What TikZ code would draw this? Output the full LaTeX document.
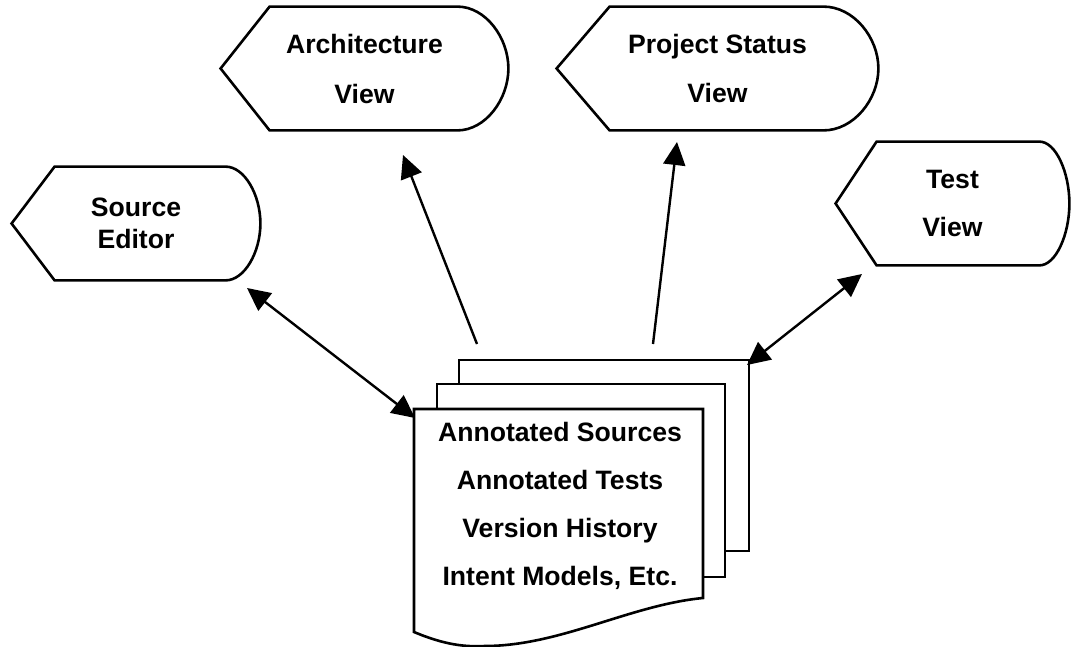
\documentclass[tikz,border=0pt]{standalone}
\usepackage{fontspec}
\setmainfont{Liberation Sans}
\usetikzlibrary{arrows.meta,calc}

\tikzset{
  outline/.style={line width=1.3pt, line join=miter},
  viewtext/.style={align=center, inner sep=0pt, draw=none},
  link/.style={line width=1.2pt, -{Triangle[length=11.5pt,width=11pt]}},
  duplex/.style={line width=1.2pt, {Triangle[length=11.5pt,width=11pt]}-{Triangle[length=11.5pt,width=11pt]}},
}

% Outline of a "display" shape around a node:
% #1 node name, #2 inset of the pointed left side, #3 width of the rounded right side
\newcommand\displayoutline[3]{%
  \draw[outline] (#1.west)
    -- ($(#1.north west)+(#2,0)$)
    -- ($(#1.north east)+(-#3,0)$)
    .. controls ($(#1.north east)+(-0.45*#3,0)$) and ($(#1.east)!0.5!(#1.north east)$) .. (#1.east)
    .. controls ($(#1.east)!0.5!(#1.south east)$) and ($(#1.south east)+(-0.45*#3,0)$) .. ($(#1.south east)+(-#3,0)$)
    -- ($(#1.south west)+(#2,0)$)
    -- cycle;}

\begin{document}
\begin{tikzpicture}[x=0.5pt, y=-0.5pt]
  \useasboundingbox (0,0) rectangle (1072,647);

  % the four views
  \node[viewtext, minimum width=124pt, minimum height=56.5pt,
        font=\bfseries\fontsize{13.3}{16}\selectfont] (editor) at (136,223.5) {Source\\Editor};
  \displayoutline{editor}{43}{35}

  \node[viewtext, minimum width=143.5pt, minimum height=61.5pt,
        font=\bfseries\fontsize{13.3}{25}\selectfont] (arch) at (364.5,68.5) {Architecture\\View};
  \displayoutline{arch}{49}{51}

  \node[viewtext, minimum width=160.5pt, minimum height=61.5pt,
        font=\bfseries\fontsize{13.3}{24.5}\selectfont] (status) at (717.5,68.5) {Project Status\\View};
  \displayoutline{status}{53}{55}

  \node[viewtext, minimum width=116.5pt, minimum height=61.5pt,
        font=\bfseries\fontsize{13.3}{24}\selectfont] (test) at (952.5,203.5) {Test\\View};
  \displayoutline{test}{41}{30}

  % stack of documents
  \draw[outline] (459,384) -- (459,360) -- (749,360) -- (749,551) -- (725,551);
  \draw[outline] (437,409) -- (437,384) -- (725,384) -- (725,577) -- (703,577);
  \draw[outline] (414,632) -- (414,409) -- (703,409) -- (703,598)
    .. controls (630,605) and (560,646) .. (485,646)
    .. controls (465,647) and (445,645) .. (414,632) -- cycle;
  \node[viewtext, font=\bfseries\fontsize{13.3}{24}\selectfont] (docs) at (560,506)
    {Annotated Sources\\Annotated Tests\\Version History\\Intent Models, Etc.};

  % connector ends
  \coordinate (editorEnd) at (247,288);
  \coordinate (docsNW)    at (415,418);
  \coordinate (archFrom)  at (477,344);
  \coordinate (archTip)   at (403,155);
  \coordinate (statusFrom) at (653,344);
  \coordinate (statusTip)  at (677,142);
  \coordinate (testEnd)   at (862,274);
  \coordinate (docsNE)    at (747,365);

  \draw[duplex] (editorEnd) -- (docsNW);
  \draw[link] (archFrom) -- (archTip);
  \draw[link] (statusFrom) -- (statusTip);
  \draw[duplex] (docsNE) -- (testEnd);
\end{tikzpicture}
\end{document}
